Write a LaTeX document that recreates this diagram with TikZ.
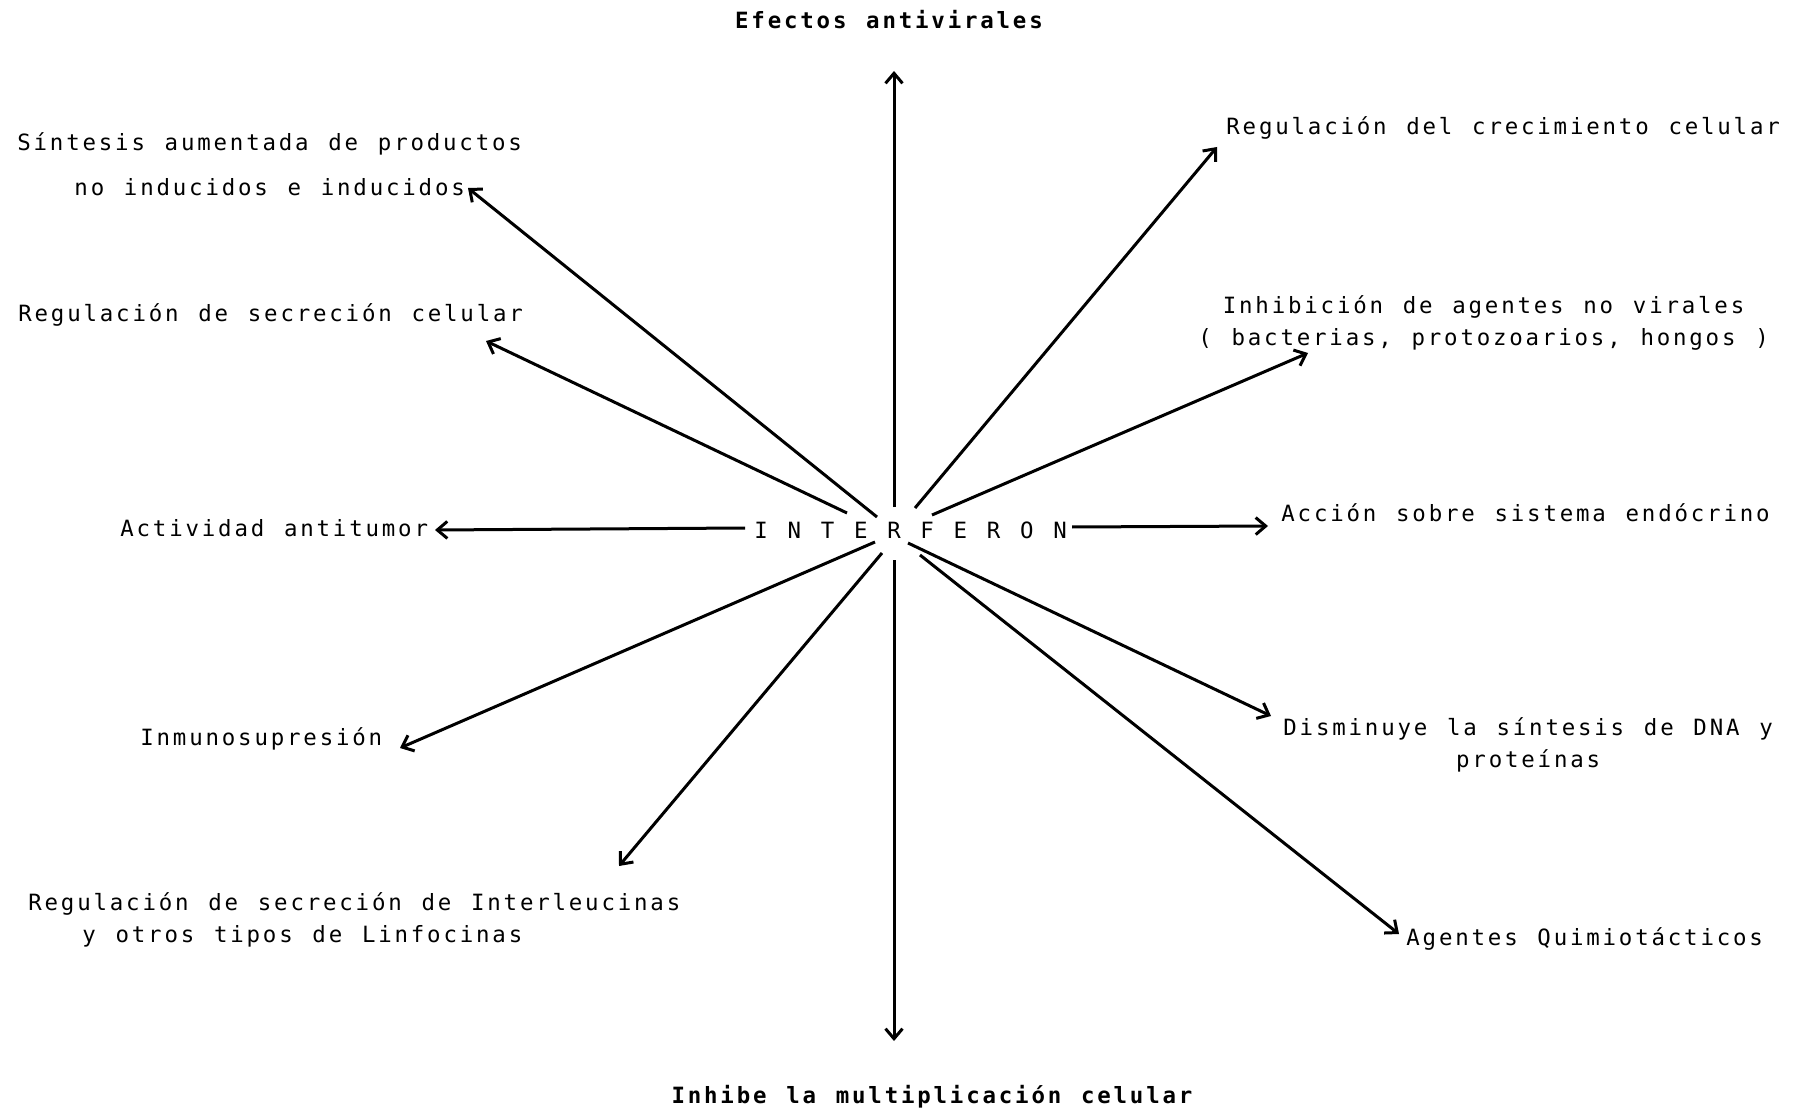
\documentclass[tikz,border=0pt]{standalone}
\usepackage{fontspec}
\usetikzlibrary{arrows.meta}
\newfontfamily\tw[LetterSpace=12.6,WordSpace=1.21]{DejaVu Sans Mono}
\begin{document}
\begin{tikzpicture}[x=0.5pt,y=-0.5pt,
  lbl/.style={font=\tw\fontsize{11.2pt}{16pt}\selectfont, inner sep=0pt, text=black},
  ttl/.style={lbl, font=\tw\bfseries\fontsize{11.2pt}{16pt}\selectfont},
  spoke/.style={line width=1.5pt, -{Straight Barb[length=5pt,width=8.5pt]}}]
\useasboundingbox (0,0) rectangle (1804,1112);
% labels
\node[lbl, anchor=base west] (ifn) at (754,538) {I N T E R F E R O N};
\node[ttl, anchor=base] (efe) at (889,29) {Efectos antivirales};
\node[ttl, anchor=base] (inh) at (932,1103) {Inhibe la multiplicación celular};
\node[lbl, anchor=north west, align=center] (sin) at (17,132) {Síntesis aumentada de productos\\[6.5pt]no inducidos e inducidos};
\node[lbl, anchor=base west] (rsc) at (18,322) {Regulación de secreción celular};
\node[lbl, anchor=base west] (act) at (120,536) {Actividad antitumor};
\node[lbl, anchor=base west] (inm) at (140,745) {Inmunosupresión};
\node[lbl, anchor=north west, align=left] (ril) at (28,892) {Regulación de secreción de Interleucinas\\\hspace*{27pt}y otros tipos de Linfocinas};
\node[lbl, anchor=base west] (rcc) at (1226,135) {Regulación del crecimiento celular};
\node[lbl, anchor=north west, align=center] (ina) at (1198,295) {Inhibición de agentes no virales\\( bacterias, protozoarios, hongos )};
\node[lbl, anchor=base west] (acc) at (1281,521) {Acción sobre sistema endócrino};
\node[lbl, anchor=north west, align=center] (dis) at (1283,717) {Disminuye la síntesis de DNA y\\proteínas};
\node[lbl, anchor=base west] (qui) at (1406,945) {Agentes Quimiotácticos};
% start points near the centre
\coordinate (sT) at (894,507);
\coordinate (sB) at (894,560);
\coordinate (sL) at (745,528);
\coordinate (sR) at (1072,527);
\coordinate (sUL1) at (877,517);
\coordinate (sUL2) at (847,513);
\coordinate (sUR1) at (915,508);
\coordinate (sUR2) at (932,515);
\coordinate (sLL1) at (875,542);
\coordinate (sLL2) at (882,553);
\coordinate (sLR1) at (908,543);
\coordinate (sLR2) at (920,555);
% tips
\coordinate (tT) at (894,71);
\coordinate (tB) at (894,1041);
\coordinate (tL) at (435,530);
\coordinate (tR) at (1268,526);
\coordinate (tUL1) at (468,188);
\coordinate (tUL2) at (486,341);
\coordinate (tUR1) at (1217,147);
\coordinate (tUR2) at (1308,353);
\coordinate (tLL1) at (400,748);
\coordinate (tLL2) at (619,866);
\coordinate (tLR1) at (1271,716);
\coordinate (tLR2) at (1399,934);
% spokes
\foreach \s/\t in {sT/tT,sB/tB,sL/tL,sR/tR,sUL1/tUL1,sUL2/tUL2,sUR1/tUR1,sUR2/tUR2,sLL1/tLL1,sLL2/tLL2,sLR1/tLR1,sLR2/tLR2}
  \draw[spoke] (\s) -- (\t);
\end{tikzpicture}
\end{document}
